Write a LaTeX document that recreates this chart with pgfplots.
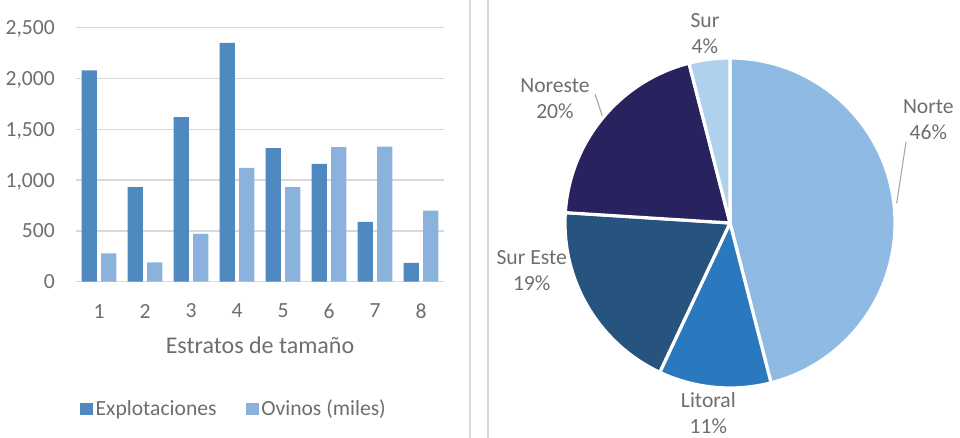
\documentclass[border=0pt]{standalone}
\usepackage{pgfplots}
\pgfplotsset{compat=1.18}
\usepackage{fontspec}
\setmainfont{Carlito}
\definecolor{txt}{HTML}{6E6E6E}
\definecolor{gridc}{HTML}{D9D9D9}
\definecolor{expl}{HTML}{4F89C0}
\definecolor{ovi}{HTML}{8BB2DD}
\definecolor{cNorte}{HTML}{8FBAE3}
\definecolor{cLitoral}{HTML}{2A78BE}
\definecolor{cSurEste}{HTML}{27537F}
\definecolor{cNoreste}{HTML}{28235F}
\definecolor{cSur}{HTML}{B0D1EE}
\definecolor{leader}{HTML}{A6A6A6}
% pie slice: #1 cumulative start (%), #2 cumulative end (%), #3 colour
\newcommand{\slice}[3]{%
  \fill[#3, draw=white, line width=2.4pt, line join=round]
    (axis cs:0,0) -- (axis cs:{cos(90-3.6*#1)},{sin(90-3.6*#1)})
    arc[start angle={90-3.6*#1}, end angle={90-3.6*#2}, radius=123.75pt] -- cycle;}
\begin{document}
\begin{tikzpicture}[font=\fontsize{16.2}{19.5}\selectfont]
\path[use as bounding box] (0,0) rectangle (720pt,328.5pt);
\draw[gridc, line width=1.1pt] (352.5pt,0) -- (352.5pt,328.5pt);
\draw[gridc, line width=1.1pt] (366pt,0) -- (366pt,328.5pt);

\begin{axis}[
  at={(57pt,117.2pt)}, anchor=south west, scale only axis,
  width=276pt, height=190.5pt,
  xmin=0.5, xmax=8.5, ymin=0, ymax=2500,
  xtick={1,...,8}, ytick={0,500,...,2500},
  axis line style={draw=none}, major tick length=0pt,
  ymajorgrids, grid style={gridc, line width=1.1pt},
  tick label style={text=txt},
  /pgf/number format/assume math mode=true,
  /pgf/number format/1000 sep={,},
  yticklabel style={anchor=east, inner sep=0pt, xshift=-15.75pt, text depth=0pt},
  xticklabel style={anchor=center, inner sep=0pt, yshift=-22pt},
  xlabel={Estratos de tamaño},
  xlabel style={at={(axis description cs:0.5,-0.249)}, anchor=center, inner sep=0pt,
    text=txt, font=\fontsize{18}{21}\selectfont},
  legend style={at={(0.011,-0.501)}, anchor=west, draw=none, fill=none,
    inner sep=0pt, legend columns=2, text=txt,
    /tikz/every even column/.append style={column sep=20pt}},
  legend cell align=left,
  legend image code/.code={\fill[#1] (0pt,-4.75pt) rectangle (9.5pt,4.75pt);},
]
\addplot[ybar, bar width=11.5pt, bar shift=-7.3pt, fill=expl, draw=none]
  coordinates {(1,2080) (2,930) (3,1620) (4,2350) (5,1315) (6,1160) (7,590) (8,185)};
\addlegendentry{Explotaciones}
\addplot[ybar, bar width=11.5pt, bar shift=7.3pt, fill=ovi, draw=none]
  coordinates {(1,280) (2,190) (3,470) (4,1120) (5,930) (6,1325) (7,1330) (8,700)};
\addlegendentry{Ovinos (miles)}
\end{axis}

\begin{axis}[
  at={(547.5pt,161.25pt)}, anchor=center, scale only axis,
  width=247.5pt, height=247.5pt,
  xmin=-1, xmax=1, ymin=-1, ymax=1, hide axis, clip=false,
]
% shares: Norte 46, Litoral 11, Sur Este 19, Noreste 20, Sur 4
\slice{0}{46}{cNorte}
\slice{46}{57}{cLitoral}
\slice{57}{76}{cSurEste}
\slice{76}{96}{cNoreste}
\slice{96}{100}{cSur}
\draw[leader, line width=0.8pt] (axis cs:1.067,0.493) -- (axis cs:1.010,0.119);
\draw[leader, line width=0.8pt] (axis cs:-0.818,0.782) -- (axis cs:-0.774,0.650);
\node[align=center, text=txt, inner sep=0pt] at (axis cs:1.202,0.624) {Norte\\46\%};
\node[align=center, text=txt, inner sep=0pt] at (axis cs:-0.152,1.145) {Sur\\4\%};
\node[align=center, text=txt, inner sep=0pt] at (axis cs:-1.061,0.753) {Noreste\\20\%};
\node[align=center, text=txt, inner sep=0pt] at (axis cs:-1.202,-0.286) {Sur Este\\19\%};
\node[align=center, text=txt, inner sep=0pt] at (axis cs:-0.131,-1.152) {Litoral\\11\%};
\end{axis}
\end{tikzpicture}
\end{document}
